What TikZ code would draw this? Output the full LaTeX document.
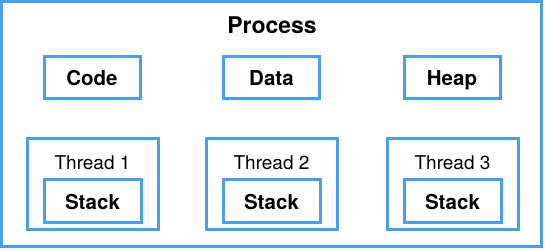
\documentclass[tikz,border=0pt]{standalone}
\usepackage{fontspec}
\setmainfont{TeX Gyre Heros}
\usepackage{xcolor}
\usepackage{tikz}
\usetikzlibrary{positioning}
\definecolor{boxblue}{RGB}{74,158,240}

\begin{document}
\begin{tikzpicture}[x=1pt,y=-1pt,
  box/.style={draw=boxblue,line width=3pt,inner sep=0pt},
  part/.style={box,minimum width=96pt,minimum height=42pt,text height=20pt,text depth=4pt,
    font=\fontsize{20.5}{20.5}\selectfont\bfseries},
  thread/.style={box,minimum width=131pt,minimum height=91pt}]
\useasboundingbox (0,0) rectangle (545,250);
\node[box,minimum width=540pt,minimum height=245pt](process) at (271.5,124){};
\node[font=\fontsize{23}{23}\selectfont\bfseries](title) at (272,25.5){Process};
\node[part](code) at (92,77){Code};
\node[part](data) at (271.5,77){Data};
\node[part](heap) at (452,77){Heap};
\foreach \i/\x in {1/92.5,2/271.5,3/452.5}{
  \node[thread](th\i) at (\x,183.5){};
  \node[font=\fontsize{19}{19}\selectfont](lab\i) at (\x,162.5){Thread \i};
  \node[part,minimum width=97pt,minimum height=43pt](st\i) at (\x,201){Stack};
}
\end{tikzpicture}
\end{document}
